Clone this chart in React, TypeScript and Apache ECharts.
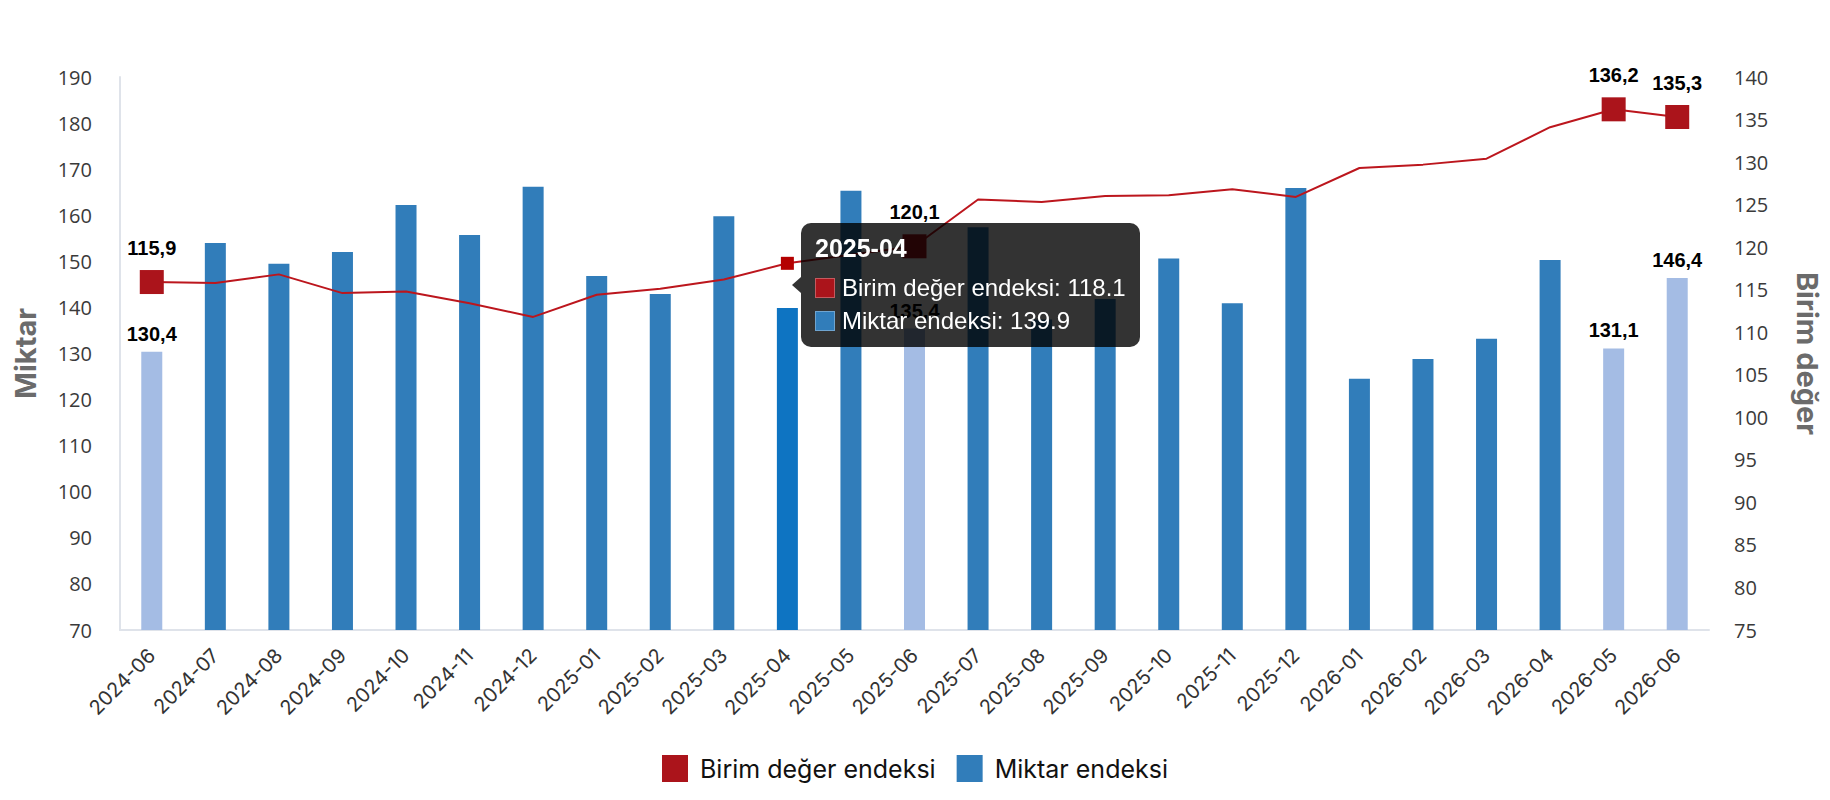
import React, { useEffect, useRef } from 'react'
import * as echarts from 'echarts'

// ay etiketleri ve endeks değerleri
const months = [
  '2024-06', '2024-07', '2024-08', '2024-09', '2024-10', '2024-11', '2024-12',
  '2025-01', '2025-02', '2025-03', '2025-04', '2025-05', '2025-06', '2025-07',
  '2025-08', '2025-09', '2025-10', '2025-11', '2025-12', '2026-01', '2026-02',
  '2026-03', '2026-04', '2026-05', '2026-06',
]
const miktarEndeksi = [
  130.4, 154.0, 149.5, 152.0, 162.2, 155.7, 166.2, 146.8, 142.9, 159.8, 139.9, 165.3, 135.4,
  157.4, 137.4, 141.8, 150.6, 140.9, 165.9, 124.5, 128.8, 133.2, 150.3, 131.1, 146.4,
]
const birimDegerEndeksi = [
  115.9, 115.8, 116.8, 114.6, 114.8, 113.4, 111.8, 114.4, 115.1, 116.2, 118.1, 119.1, 120.1,
  125.6, 125.3, 126.0, 126.1, 126.8, 125.9, 129.3, 129.7, 130.4, 134.1, 136.2, 135.3,
]
// etiketli (açık renkli) aylar
const labelledIdx = [0, 12, 23, 24]
const hoverIdx = 10

const seriesNames = ['Birim değer endeksi', 'Miktar endeksi']
const leftAxis = { min: 70, max: 190, interval: 10 }
const rightAxis = { min: 75, max: 140, interval: 5 }

const RED = '#ab141b'
const BLUE = '#317dba'
const LIGHT_BLUE = '#a4bce4'

const fmtComma = (v: number) => v.toFixed(1).replace('.', ',')

const labelStyle = {
  fontFamily: 'Liberation Sans, Arial, sans-serif',
  fontWeight: 'bold' as const,
  fontSize: 20,
  color: '#000',
}

const App: React.FC = () => {
  const chartRef = useRef<HTMLDivElement>(null)

  useEffect(() => {
    if (!chartRef.current) return
    const chart = echarts.init(chartRef.current, undefined, { renderer: 'svg' })

    const marker = (color: string) =>
      `<span style="display:inline-block;width:18px;height:18px;background:${color};border:1px solid rgba(255,255,255,0.3);margin-right:7px;vertical-align:-2px"></span>`

    const option = {
      animation: false,
      tooltip: {
        trigger: 'axis',
        axisPointer: { type: 'none' },
        backgroundColor: 'rgba(0,0,0,0.8)',
        borderWidth: 0,
        borderRadius: 10,
        padding: [10, 14],
        transitionDuration: 0,
        extraCssText: 'box-shadow:none;',
        textStyle: { color: '#fff', fontFamily: 'Liberation Sans, Arial, sans-serif', fontSize: 24 },
        position: (point: number[], _p: any, _d: any, _r: any, size: any) => [
          point[0] + 14,
          point[1] + 22 - size.contentSize[1] / 2,
        ],
        formatter: (params: any) => {
          const list = Array.isArray(params) ? params : [params]
          const rows = seriesNames
            .map((name) => {
              const p = list.find((q: any) => q.seriesName === name)
              if (!p) return ''
              const color = name === seriesNames[0] ? RED : BLUE
              const val = typeof p.value === 'object' ? p.value.value : p.value
              return `<div style="line-height:33px;white-space:nowrap">${marker(color)}${name}: ${val}</div>`
            })
            .join('')
          const arrow =
            '<div style="position:absolute;left:-9px;top:50%;margin-top:-8px;width:0;height:0;border-top:8px solid transparent;border-bottom:8px solid transparent;border-right:9px solid rgba(0,0,0,0.8)"></div>'
          return `${arrow}<div style="font-weight:bold;font-size:25px;line-height:30px;margin-bottom:8px">${list[0].axisValue}</div>${rows}`
        },
      },
      legend: {
        data: seriesNames,
        top: 750,
        left: 'center',
        icon: 'rect',
        itemWidth: 26,
        itemHeight: 27,
        itemGap: 21,
        textStyle: { fontFamily: 'Inter', fontSize: 25, color: '#111', padding: [0, 0, 0, 7] },
      },
      grid: { left: 120, right: 119, top: 77, bottom: 170 },
      xAxis: {
        type: 'category',
        data: months,
        axisLine: { lineStyle: { color: '#dfe3ea', width: 2 } },
        axisTick: { show: false },
        axisLabel: { rotate: 45, margin: 22, fontFamily: 'Inter', fontSize: 20, color: '#333' },
      },
      yAxis: [
        {
          type: 'value',
          ...leftAxis,
          name: 'Miktar',
          nameLocation: 'middle',
          nameGap: 80,
          nameTextStyle: { fontFamily: 'Inter', fontWeight: 'bold', fontSize: 29, color: '#6b6b6b' },
          axisLine: { show: true, lineStyle: { color: '#dfe3ea', width: 2 } },
          axisTick: { show: false },
          splitLine: { show: false },
          axisLabel: { margin: 28, fontFamily: 'Open Sans', fontSize: 20, color: '#3a3a3a' },
        },
        {
          type: 'value',
          ...rightAxis,
          name: 'Birim değer',
          nameLocation: 'middle',
          nameRotate: -90,
          nameGap: 84,
          nameTextStyle: { fontFamily: 'Inter', fontWeight: 'bold', fontSize: 29, color: '#6b6b6b' },
          axisLine: { show: false },
          axisTick: { show: false },
          splitLine: { show: false },
          axisLabel: { margin: 25, fontFamily: 'Open Sans', fontSize: 20, color: '#3a3a3a' },
        },
      ],
      series: [
        {
          name: seriesNames[1],
          type: 'bar',
          yAxisIndex: 0,
          barWidth: 21,
          itemStyle: { color: BLUE },
          emphasis: { itemStyle: { color: '#0e74c2' } },
          label: {
            show: false,
            position: 'top',
            distance: 8,
            formatter: (p: any) => fmtComma(p.value),
            ...labelStyle,
          },
          data: miktarEndeksi.map((v, i) =>
            labelledIdx.includes(i)
              ? { value: v, itemStyle: { color: LIGHT_BLUE }, label: { show: true } }
              : v,
          ),
        },
        {
          name: seriesNames[0],
          type: 'line',
          yAxisIndex: 1,
          showSymbol: false,
          symbol: 'rect',
          symbolSize: 13,
          lineStyle: { color: RED, width: 2 },
          itemStyle: { color: RED },
          emphasis: { scale: false, itemStyle: { color: '#b40000' }, lineStyle: { width: 2 } },
          markPoint: {
            symbol: 'rect',
            symbolSize: 24,
            silent: true,
            itemStyle: { color: RED },
            label: {
              show: true,
              position: 'top',
              distance: 12,
              formatter: (p: any) => fmtComma(p.value),
              ...labelStyle,
            },
            data: labelledIdx.map((i) => ({
              coord: [months[i], birimDegerEndeksi[i]],
              value: birimDegerEndeksi[i],
            })),
          },
          data: birimDegerEndeksi,
        },
      ],
    }

    chart.setOption(option as any)

    const [px, py] = chart.convertToPixel({ seriesIndex: 1 }, [
      months[hoverIdx],
      birimDegerEndeksi[hoverIdx],
    ]) as number[]
    chart.dispatchAction({ type: 'showTip', x: px, y: py })

    return () => {
      chart.dispose()
    }
  }, [])

  return (
    <div
      ref={chartRef}
      style={{ position: 'absolute', left: 0, top: 0, width: 1830, height: 800, background: '#fff' }}
    />
  )
}

export default App
